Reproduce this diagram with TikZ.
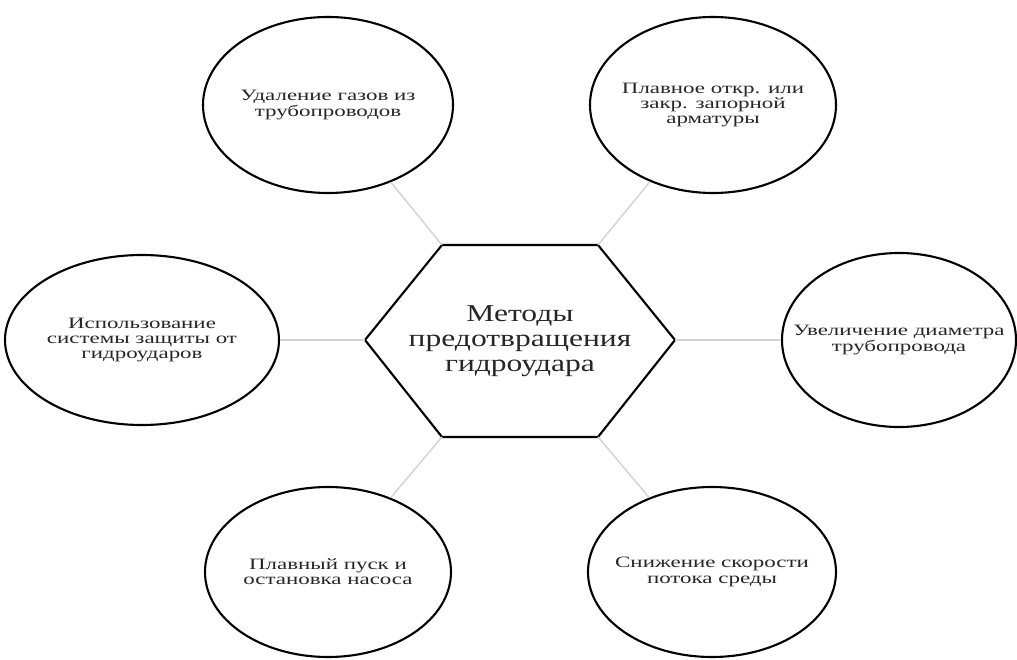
\documentclass[tikz,border=0pt]{standalone}
\usepackage{fontspec}
\setmainfont{Liberation Serif}
\newfontfamily\ovalfont{Liberation Serif}[FakeStretch=1.45]
\newfontfamily\hexfont{Liberation Serif}[FakeStretch=1.3]
\usetikzlibrary{shapes.geometric}

\begin{document}
\begin{tikzpicture}[
        oval/.style={ellipse, draw, line width=1.2pt, inner xsep=-20pt, inner ysep=-8pt, align=center,
            text=black!85, font=\ovalfont\fontsize{9}{8.7}\selectfont},
        link/.style={draw=gray!35, line width=0.8pt}
    ]
        \useasboundingbox (0,0) rectangle (20.34,13.18);
        % central hexagon
        \coordinate (hl) at (7.30,6.38);
        \coordinate (htl) at (8.84,8.28);
        \coordinate (htr) at (11.96,8.28);
        \coordinate (hr) at (13.50,6.38);
        \coordinate (hbr) at (11.96,4.44);
        \coordinate (hbl) at (8.84,4.44);
        \draw[line width=1.2pt, line join=miter] (hl) -- (htl) -- (htr) -- (hr) -- (hbr) -- (hbl) -- cycle;
        \node[align=center, text=black!85, font=\hexfont\fontsize{13.8}{14.2}\selectfont] (methods) at (10.4,6.36)
            {Методы\\предотвращения\\гидроудара};
        % the six methods
        \node[oval, minimum width=5.0cm, minimum height=3.52cm] (gas) at (6.56,11.08)
            {Удаление газов из\\трубопроводов};
        \node[oval, minimum width=4.92cm, minimum height=3.52cm] (valve) at (14.26,11.08)
            {Плавное откр. или\\закр. запорной\\арматуры};
        \node[oval, minimum width=5.48cm, minimum height=3.4cm] (protect) at (2.84,6.38)
            {Использование\\системы защиты от\\гидроударов};
        \node[oval, minimum width=4.68cm, minimum height=3.48cm] (diam) at (17.98,6.38)
            {Увеличение диаметра\\трубопровода};
        \node[oval, minimum width=4.92cm, minimum height=3.4cm] (pump) at (6.56,1.74)
            {Плавный пуск и\\остановка насоса};
        \node[oval, minimum width=4.96cm, minimum height=3.4cm] (speed) at (14.24,1.74)
            {Снижение скорости\\потока среды};
        % connectors
        \draw[link] (gas) -- (htl);
        \draw[link] (valve) -- (htr);
        \draw[link] (protect) -- (hl);
        \draw[link] (diam) -- (hr);
        \draw[link] (pump) -- (hbl);
        \draw[link] (speed) -- (hbr);
    \end{tikzpicture}
\end{document}
